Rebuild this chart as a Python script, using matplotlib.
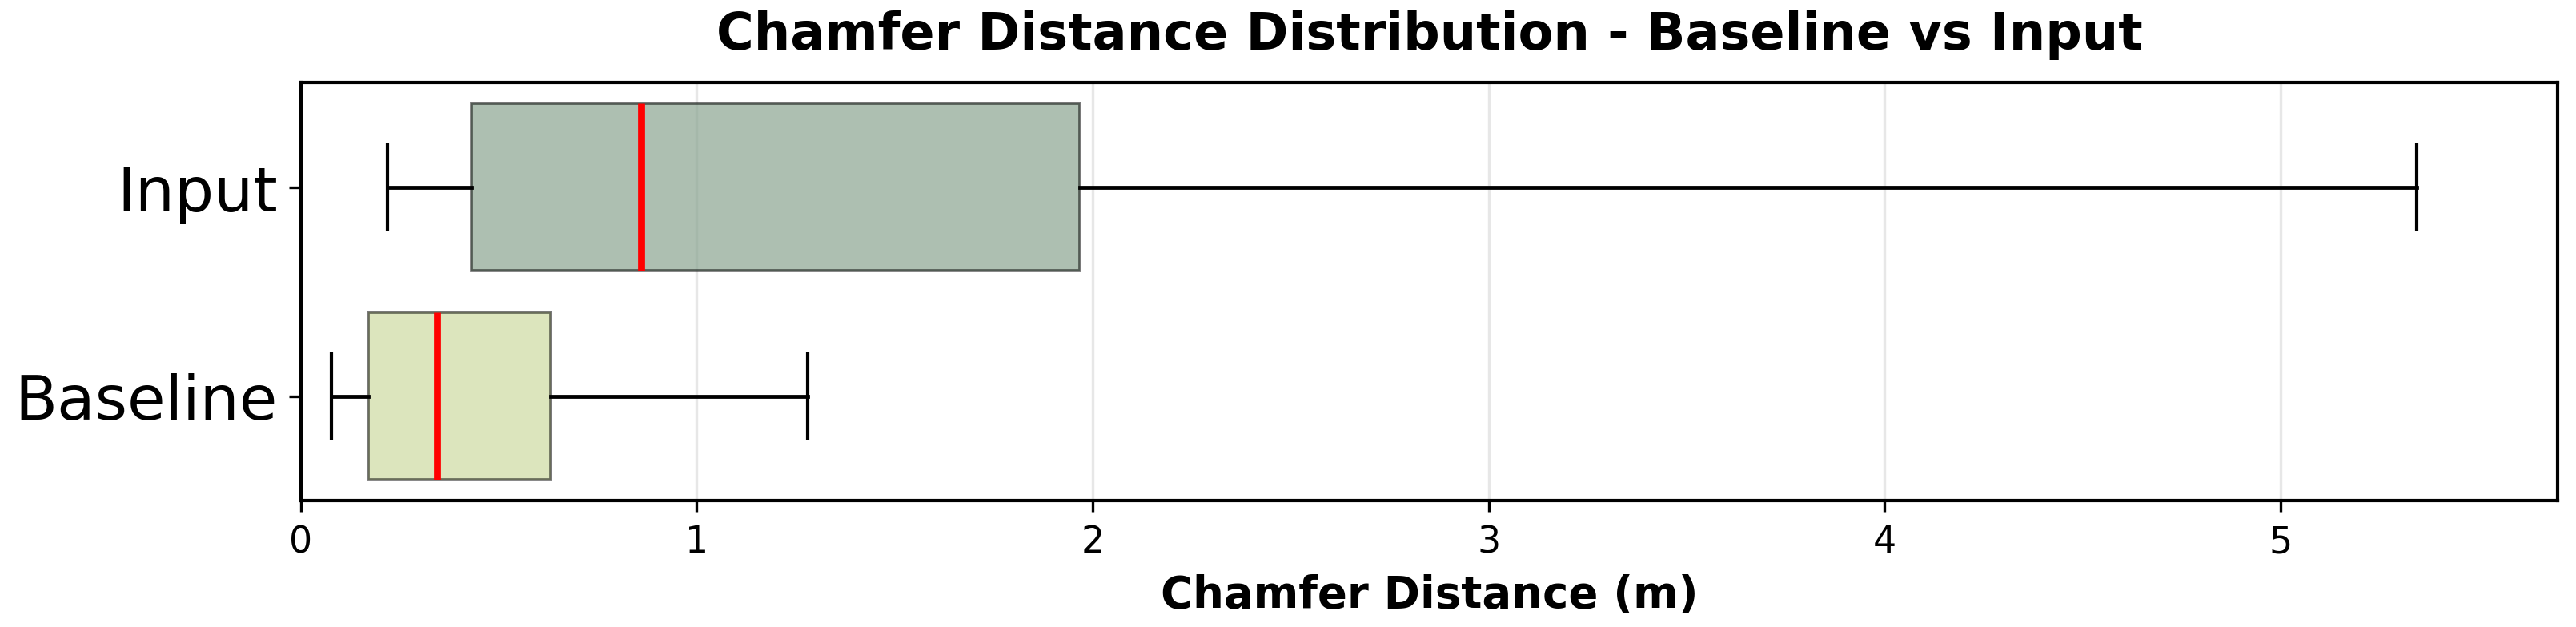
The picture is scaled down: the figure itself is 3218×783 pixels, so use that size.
import matplotlib.pyplot as plt
import numpy as np

# box statistics (metres)
labels = ["Baseline", "Input"]
whislo = [0.078, 0.218]
q1 = [0.170, 0.431]
med = [0.343, 0.859]
q3 = [0.632, 1.967]
whishi = [1.280, 5.344]
box_colors = ["#cedaa1", "#8aa491"]

stats = []
for i in range(len(labels)):
    stats.append({"label": labels[i], "whislo": whislo[i], "q1": q1[i],
                  "med": med[i], "q3": q3[i], "whishi": whishi[i], "fliers": []})

fig = plt.figure(figsize=(10.727, 2.613), dpi=300)
ax = fig.add_axes([0.1168, 0.2015, 0.876, 0.6658])

bp = ax.bxp(stats, vert=False, widths=0.8, patch_artist=True, showfliers=False,
            medianprops=dict(color="red", linewidth=2.1),
            whiskerprops=dict(color="black", linewidth=1.15),
            capprops=dict(color="black", linewidth=1),
            boxprops=dict(linewidth=0.9))
for patch, c in zip(bp["boxes"], box_colors):
    rgb = plt.matplotlib.colors.to_rgb(c)
    patch.set_facecolor(rgb + (0.7,))
    patch.set_edgecolor((0, 0, 0, 0.52))

ax.set_xlim(0, 5.70)
ax.set_ylim(0.5, 2.5)
ax.grid(axis="x", alpha=0.3)
ax.set_axisbelow(True)
for s in ax.spines.values():
    s.set_linewidth(1)
ax.tick_params(axis="y", labelsize=18.6)
ax.tick_params(axis="x", labelsize=11)
ax.set_xlabel("Chamfer Distance (m)", fontsize=13.1, fontweight="bold")
ax.set_title("Chamfer Distance Distribution - Baseline vs Input", fontsize=15.3,
             fontweight="bold", pad=10)

fig.savefig("out.png", dpi=300)
